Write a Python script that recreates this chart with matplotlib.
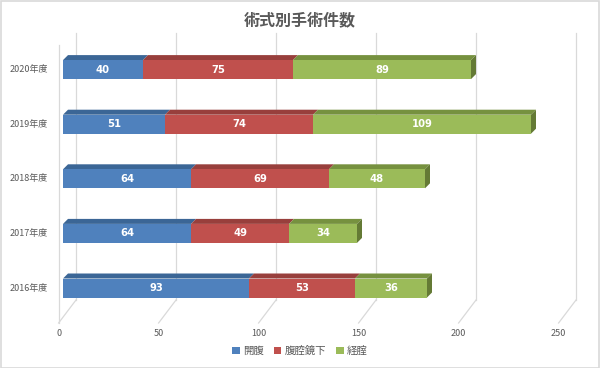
import matplotlib
matplotlib.use("Agg")
import matplotlib.pyplot as plt
from matplotlib.patches import Polygon, Patch, Rectangle
from matplotlib.lines import Line2D
import matplotlib.transforms as mtrans

plt.rcParams['font.family'] = ['Noto Sans CJK JP', 'DejaVu Sans']

# ---- data ----
years = ["2016年度", "2017年度", "2018年度", "2019年度", "2020年度"]
series_names = ["開腹", "腹腔鏡下", "経腟"]
kaifuku = [93, 64, 64, 51, 40]
fukukuukyou = [53, 49, 69, 74, 75]
keichitsu = [36, 34, 48, 109, 89]
xticks = [0, 50, 100, 150, 200, 250]
title = "術式別手術件数"

front_cols = ["#4F81BD", "#C0504D", "#9BBB59"]
top_cols = ["#3B6696", "#983F3C", "#76913F"]
side_cols = ["#33577F", "#7E3432", "#647A35"]

W, H, DPI = 600, 368, 100
fig = plt.figure(figsize=(W / DPI, H / DPI), dpi=DPI)
fig.patch.set_facecolor("white")
# outer frame
fig.add_artist(Rectangle((0.5 / W, 0.5 / H), 1 - 1.5 / W, 1 - 1.5 / H, transform=fig.transFigure,
                         fill=False, edgecolor="#D9D9D9", linewidth=1.2))

# axes geometry in pixels
x0_px, px_per_unit = 63.0, 2.0
xmax = 250
c0_px, spacing = 288.0, 54.6
top_px, bot_px = 33.0, 323.0
ylo = (c0_px - bot_px) / spacing
yhi = (c0_px - top_px) / spacing
ax = fig.add_axes([x0_px / W, (H - bot_px) / H, xmax * px_per_unit / W, (bot_px - top_px) / H])
ax.set_xlim(0, xmax)
ax.set_ylim(ylo, yhi)
ax.axis("off")


def off(dx_px, dy_px):
    return ax.transData + mtrans.ScaledTranslation(dx_px / DPI, dy_px / DPI, fig.dpi_scale_trans)


# back wall gridlines and floor
grid_c = "#D9D9D9"
back_dx, back_bot = 13.0, (c0_px - 300.0) / spacing
front_dx = -4.4
for t in xticks:
    ax.add_line(Line2D([t, t], [back_bot, yhi], transform=off(back_dx, 0), color=grid_c, lw=0.9, clip_on=False))
    tb = off(back_dx, 0).transform((t, back_bot))
    tf = off(front_dx, 0).transform((t, ylo))
    fig.add_artist(Line2D([tb[0] / W, tf[0] / W], [tb[1] / H, tf[1] / H], transform=fig.transFigure,
                          color=grid_c, lw=0.9))
    ax.text(t, ylo, str(t), transform=off(front_dx, -10), ha="center", va="center",
            fontsize=6.5, color="#595959")
# left wall front edge
ax.add_line(Line2D([0, 0], [ylo, (c0_px - 45.0) / spacing], transform=off(front_dx, 0), color=grid_c,
                   lw=0.9, clip_on=False))

# bars
bh = 19.0 / spacing
ddx, ddy = 5.0, 5.0
ddx_u = ddx / px_per_unit
ddy_u = ddy / spacing
series = [kaifuku, fukukuukyou, keichitsu]
ypos = list(range(len(years)))
left = [0] * len(years)
for si, vals in enumerate(series):
    for i, v in enumerate(vals):
        l = left[i]
        r = l + v
        yt = i + bh / 2
        top = Polygon([(l, yt), (r, yt), (r + ddx_u, yt + ddy_u), (l + ddx_u, yt + ddy_u)],
                      closed=True, facecolor=top_cols[si], edgecolor="none", zorder=2)
        ax.add_patch(top)
        if si == len(series) - 1:
            side = Polygon([(r, i - bh / 2), (r, yt), (r + ddx_u, yt + ddy_u), (r + ddx_u, i - bh / 2 + ddy_u)],
                           closed=True, facecolor=side_cols[si], edgecolor="none", zorder=2)
            ax.add_patch(side)
    ax.barh(ypos, vals, left=left, height=bh, color=front_cols[si], edgecolor="none", zorder=3)
    for i, v in enumerate(vals):
        ax.text(left[i] + v / 2, i, str(v), ha="center", va="center", color="white",
                fontsize=7.2, fontweight="bold", family="DejaVu Sans", zorder=4)
    left = [a + b for a, b in zip(left, vals)]

# category labels
for i, yl in enumerate(years):
    ax.text(0, i, yl, transform=off(-15, 0), ha="right", va="center", fontsize=6.5, color="#595959")

# title
fig.text(0.5, 1 - 20 / H, title, ha="center", va="center", fontsize=11.5, fontweight="bold", color="#595959")

# legend
handles = [Patch(facecolor=c, edgecolor="none") for c in front_cols]
fig.legend(handles, series_names, loc="center", bbox_to_anchor=(0.5, 1 - 351 / H), ncol=3, frameon=False,
           fontsize=7.5, handlelength=0.7, handleheight=0.7, handletextpad=0.3, columnspacing=1.0,
           labelcolor="#595959")

fig.savefig("out.png", dpi=DPI)
